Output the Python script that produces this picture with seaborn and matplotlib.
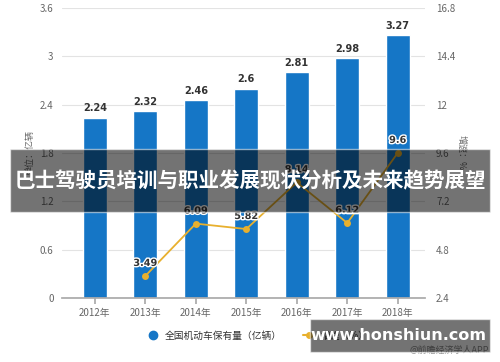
import numpy as np
import pandas as pd
import matplotlib
matplotlib.use('Agg')
import matplotlib.pyplot as plt
import matplotlib.patheffects as pe
from matplotlib.lines import Line2D
from matplotlib.patches import Rectangle
import seaborn as sns

# data
years = ['2012年', '2013年', '2014年', '2015年', '2016年', '2017年', '2018年']
vehicles = [2.24, 2.32, 2.46, 2.60, 2.81, 2.98, 3.27]
growth_years = ['2013年', '2014年', '2015年', '2016年', '2017年', '2018年']
growth = [3.49, 6.09, 5.82, 8.14, 6.12, 9.6]
left_ticks = [0, 0.6, 1.2, 1.8, 2.4, 3, 3.6]
right_ticks = [2.4, 4.8, 7.2, 9.6, 12, 14.4, 16.8]

sns.set_theme(style='white')
plt.rcParams['font.family'] = ['Noto Sans CJK SC', 'DejaVu Sans']

blue = '#1576c6'
yellow = '#e8b02e'
grey = '#666666'

df = pd.DataFrame({'year': years, 'vehicles': vehicles})
gdf = pd.DataFrame({'year': growth_years, 'growth': growth})
gdf['pos'] = [years.index(y) for y in growth_years]

fig = plt.figure(figsize=(5, 3.62), dpi=100)
ax = fig.add_axes([0.124, 0.177, 0.726, 0.801])

sns.barplot(data=df, x='year', y='vehicles', color=blue, width=0.47,
            saturation=1, ax=ax, zorder=2)
ax.set_ylim(0, 3.6)
ax.set_xlim(-0.65, 6.54)
ax.set_yticks(left_ticks)
ax.set_yticklabels(['0', '0.6', '1.2', '1.8', '2.4', '3', '3.6'])
ax.yaxis.grid(True, color='#e3e3e3', lw=0.8, zorder=0)
ax.set_axisbelow(True)
for s in ['top', 'right', 'left']:
    ax.spines[s].set_visible(False)
ax.spines['bottom'].set_color('#aaaaaa')
ax.tick_params(axis='y', length=0, labelsize=7, labelcolor=grey, pad=6)
ax.tick_params(axis='x', length=4, color='#aaaaaa', labelsize=7, labelcolor=grey,
               direction='out', bottom=True)
ax.set_xlabel('')
ax.set_ylabel('单位：亿辆', fontsize=6.5, color=grey, labelpad=4)

for i, v in enumerate(vehicles):
    ax.text(i, v + 0.05, f'{v:g}', ha='center', va='bottom', fontsize=7,
            fontweight='bold', color='#333333', family='DejaVu Sans')

ax2 = ax.twinx()
sns.lineplot(data=gdf, x='pos', y='growth', color=yellow, lw=1.3, marker='o',
             markersize=5, markeredgewidth=0, ax=ax2, zorder=3)
ax2.set_ylim(2.4, 16.8)
ax2.set_yticks(right_ticks)
ax2.set_yticklabels(['2.4', '4.8', '7.2', '9.6', '12', '14.4', '16.8'])
for s in ['top', 'right', 'left', 'bottom']:
    ax2.spines[s].set_visible(False)
ax2.tick_params(axis='y', length=0, labelsize=7, labelcolor=grey, pad=8)
ax2.set_xlabel('')
ax2.set_ylabel('增速：%', fontsize=6.5, color=grey, rotation=270, labelpad=8)
ax2.set_xlim(-0.65, 6.54)

for p, g in zip(gdf['pos'], growth):
    ax2.text(p, g + 0.4, f'{g:g}' if g == 9.6 else f'{g:.2f}', ha='center',
             va='bottom', fontsize=7, fontweight='bold', color='#333333',
             family='DejaVu Sans',
             path_effects=[pe.withStroke(linewidth=2, foreground='white')])

handles = [Line2D([], [], color=blue, marker='o', lw=0, markersize=6),
           Line2D([], [], color=yellow, marker='o', lw=1.5, markersize=4)]
fig.legend(handles, ['全国机动车保有量（亿辆）', '增速（%）'], loc='center',
           bbox_to_anchor=(0.515, 0.073), ncol=2, frameon=False, fontsize=7,
           handlelength=1.2, columnspacing=2.2, handletextpad=0.6,
           labelcolor='#333333')

fig.text(0.978, 0.02, '@前瞻经济学人APP', ha='right', va='bottom', fontsize=6.5,
         color='#888888')

# title banner overlay
fig.patches.append(Rectangle((0.02, 0.414), 0.96, 0.174, transform=fig.transFigure,
                             facecolor='black', alpha=0.55, zorder=10))
fig.text(0.5, 0.5, '巴士驾驶员培训与职业发展现状分析及未来趋势展望', ha='center',
         va='center', fontsize=14.8, fontweight='bold', color='white', zorder=11)

# site watermark
fig.patches.append(Rectangle((0.62, 0.028), 0.36, 0.092, transform=fig.transFigure,
                             facecolor='black', alpha=0.55, zorder=10))
fig.text(0.796, 0.074, 'www.honshiun.com', ha='center', va='center', fontsize=11.5,
         fontweight='bold', color='white', zorder=11, family='DejaVu Sans')

fig.savefig('out.png', dpi=100)
